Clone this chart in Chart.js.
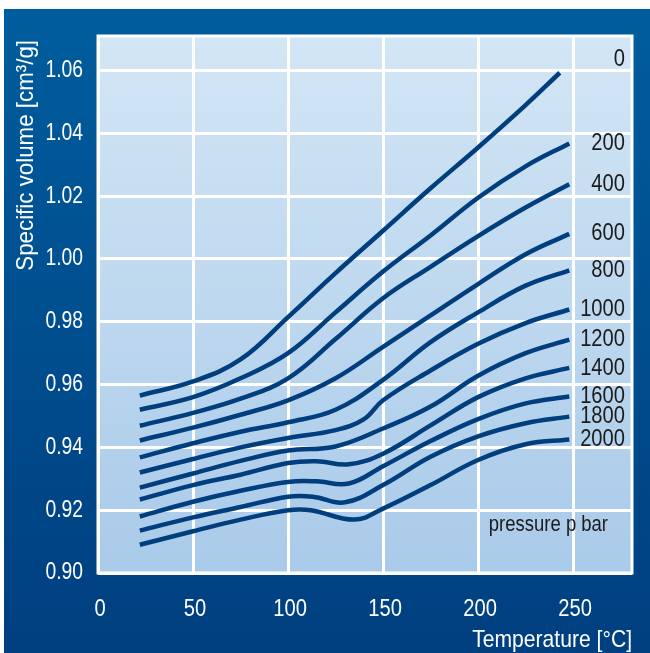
<!DOCTYPE html>
<html lang="en">
<head>
    <meta charset="UTF-8">
    <title>Specific volume vs temperature</title>
    <style>
        body {
            margin: 0;
            padding: 0;
            background: #ffffff;
        }
        #frame {
            position: absolute;
            left: 4px;
            top: 9px;
            width: 646px;
            height: 644px;
            background: linear-gradient(to bottom, #005d9d, #003f80);
        }
        #chartContainer {
            position: absolute;
            left: 0;
            top: 0;
            width: 650px;
            height: 653px;
        }
    </style>
    <script src="https://cdn.jsdelivr.net/npm/chart.js"></script>
</head>
<body>
    <div id="frame"></div>
    <div id="chartContainer">
        <canvas id="volumeChart" width="650" height="653"></canvas>
    </div>

    <script>
        // pressure labels (bar)
        const pressures = ['0', '200', '400', '600', '800', '1000', '1200', '1400', '1600', '1800', '2000'];

        // temperatures [°C] and specific volumes [cm3/g]
        const temp0 = [22, 50, 75, 100, 125, 150, 175, 200, 225, 243];
        const vol0 = [0.9565, 0.961, 0.968, 0.9815, 0.9955, 1.009, 1.0225, 1.0355, 1.049, 1.0593];

        const temp200 = [22, 50, 75, 100, 125, 150, 175, 200, 225, 248];
        const vol200 = [0.952, 0.956, 0.962, 0.970, 0.983, 0.996, 1.0075, 1.0195, 1.0295, 1.0368];

        const temp400 = [22, 50, 75, 100, 125, 150, 175, 200, 225, 248];
        const vol400 = [0.9469, 0.951, 0.9555, 0.962, 0.9745, 0.9875, 0.9975, 1.0073, 1.0164, 1.0238];

        const temp600 = [22, 50, 75, 100, 125, 150, 175, 200, 225, 248];
        const vol600 = [0.9422, 0.9463, 0.9504, 0.955, 0.962, 0.972, 0.982, 0.992, 1.0015, 1.008];

        const temp800 = [22, 50, 75, 100, 125, 150, 175, 200, 225, 248];
        const vol800 = [0.9368, 0.9413, 0.945, 0.948, 0.952, 0.9615, 0.9735, 0.983, 0.9915, 0.9964];

        const temp1000 = [22, 50, 75, 100, 125, 140, 150, 175, 200, 225, 248];
        const vol1000 = [0.932, 0.9363, 0.940, 0.943, 0.9455, 0.949, 0.955, 0.9645, 0.973, 0.9796, 0.9839];

        const temp1200 = [22, 50, 75, 100, 125, 150, 175, 200, 225, 248];
        const vol1200 = [0.9272, 0.9317, 0.9357, 0.939, 0.9403, 0.946, 0.953, 0.9628, 0.970, 0.9743];

        const temp1400 = [22, 50, 75, 100, 115, 132, 150, 175, 200, 225, 248];
        const vol1400 = [0.9234, 0.928, 0.9313, 0.935, 0.9356, 0.9346, 0.938, 0.947, 0.956, 0.962, 0.9653];

        const temp1600 = [22, 50, 75, 100, 115, 132, 150, 175, 200, 225, 248];
        const vol1600 = [0.918, 0.9227, 0.9262, 0.929, 0.9292, 0.9285, 0.934, 0.942, 0.949, 0.954, 0.9562];

        const temp1800 = [22, 50, 75, 100, 113, 130, 150, 175, 200, 225, 248];
        const vol1800 = [0.9135, 0.9177, 0.921, 0.9243, 0.9243, 0.9225, 0.928, 0.937, 0.9435, 0.9477, 0.9498];

        const temp2000 = [22, 50, 75, 100, 112, 135, 150, 175, 200, 225, 248];
        const vol2000 = [0.909, 0.9133, 0.917, 0.920, 0.920, 0.917, 0.9205, 0.928, 0.936, 0.941, 0.9425];

        const tempSets = [temp0, temp200, temp400, temp600, temp800, temp1000, temp1200, temp1400, temp1600, temp1800, temp2000];
        const volSets = [vol0, vol200, vol400, vol600, vol800, vol1000, vol1200, vol1400, vol1600, vol1800, vol2000];

        const xTicks = [0, 50, 100, 150, 200, 250];
        const yTicks = [0.90, 0.92, 0.94, 0.96, 0.98, 1.00, 1.02, 1.04, 1.06];

        const lineColor = '#003e7e';
        const fontFamily = "'Liberation Sans', Arial, sans-serif";

        const datasets = tempSets.map((temps, i) => ({
            label: pressures[i] + ' bar',
            data: temps.map((t, j) => ({ x: t, y: volSets[i][j] })),
            borderColor: lineColor,
            borderWidth: 4.5,
            pointRadius: 0,
            fill: false,
            tension: 0.4,
            borderCapStyle: 'butt'
        }));

        // text squeezed sideways for a Helvetica Condensed look
        function drawText(ctx, text, x, y, align, size, color, squeeze, rotate) {
            ctx.save();
            ctx.translate(x, y);
            if (rotate) ctx.rotate(-Math.PI / 2);
            ctx.scale(squeeze, 1);
            ctx.font = size + 'px ' + fontFamily;
            ctx.fillStyle = color;
            ctx.textAlign = align;
            ctx.textBaseline = 'middle';
            ctx.fillText(text, 0, 0);
            ctx.restore();
        }

        // light gradient behind the plot and the white frame round it
        const plotBackground = {
            id: 'plotBackground',
            beforeDraw(chart) {
                const { ctx, chartArea: a } = chart;
                const g = ctx.createLinearGradient(0, a.top, 0, a.bottom);
                g.addColorStop(0, '#d3e6f5');
                g.addColorStop(1, '#a9cae9');
                ctx.save();
                ctx.fillStyle = g;
                ctx.fillRect(a.left, a.top, a.right - a.left, a.bottom - a.top);
                ctx.restore();
            },
            afterDatasetsDraw(chart) {
                const { ctx, chartArea: a } = chart;
                ctx.save();
                ctx.strokeStyle = '#ffffff';
                ctx.lineWidth = 3;
                ctx.strokeRect(a.left, a.top, a.right - a.left, a.bottom - a.top);
                ctx.restore();
            }
        };

        // tick labels, pressure labels at the curve ends, axis titles
        const textLabels = {
            id: 'textLabels',
            afterDraw(chart) {
                const { ctx, chartArea: a, scales } = chart;

                scales.y.ticks.forEach(t => {
                    drawText(ctx, t.value.toFixed(2), 83, scales.y.getPixelForValue(t.value), 'right', 23, '#ffffff', 0.84);
                });
                scales.x.ticks.forEach(t => {
                    drawText(ctx, String(t.value), scales.x.getPixelForValue(t.value) + 2, 609, 'center', 24, '#ffffff', 0.84);
                });

                volSets.forEach((vols, i) => {
                    let y = scales.y.getPixelForValue(vols[vols.length - 1]);
                    if (i === 0) y -= 13;
                    drawText(ctx, pressures[i], a.right - 7, y, 'right', 24, '#1b1b1b', 0.84);
                });
                drawText(ctx, 'pressure p bar', a.right - 24, 525, 'right', 22, '#1b1b1b', 0.84);

                drawText(ctx, 'Temperature [°C]', a.right, 640, 'right', 24, '#ffffff', 0.88);
                drawText(ctx, 'Specific volume [cm³/g]', 26, a.top + 4, 'right', 24, '#ffffff', 0.93, true);
            }
        };

        const ctx = document.getElementById('volumeChart').getContext('2d');
        const chart = new Chart(ctx, {
            type: 'line',
            data: { datasets: datasets },
            options: {
                responsive: false,
                animation: false,
                layout: { padding: { top: 36, right: 18, left: 0, bottom: 0 } },
                plugins: {
                    legend: { display: false },
                    tooltip: { enabled: false }
                },
                scales: {
                    x: {
                        type: 'linear',
                        min: 0,
                        max: 281,
                        afterFit: (scale) => { scale.height = 80; },
                        afterBuildTicks: (scale) => { scale.ticks = xTicks.map(v => ({ value: v })); },
                        grid: { color: '#ffffff', lineWidth: 3, drawTicks: false },
                        border: { display: false },
                        ticks: { display: false }
                    },
                    y: {
                        type: 'linear',
                        min: 0.90,
                        max: 1.071,
                        afterFit: (scale) => { scale.width = 98; },
                        afterBuildTicks: (scale) => { scale.ticks = yTicks.map(v => ({ value: v })); },
                        grid: { color: '#ffffff', lineWidth: 3, drawTicks: false },
                        border: { display: false },
                        ticks: { display: false }
                    }
                }
            },
            plugins: [plotBackground, textLabels]
        });
    </script>
</body>
</html>
